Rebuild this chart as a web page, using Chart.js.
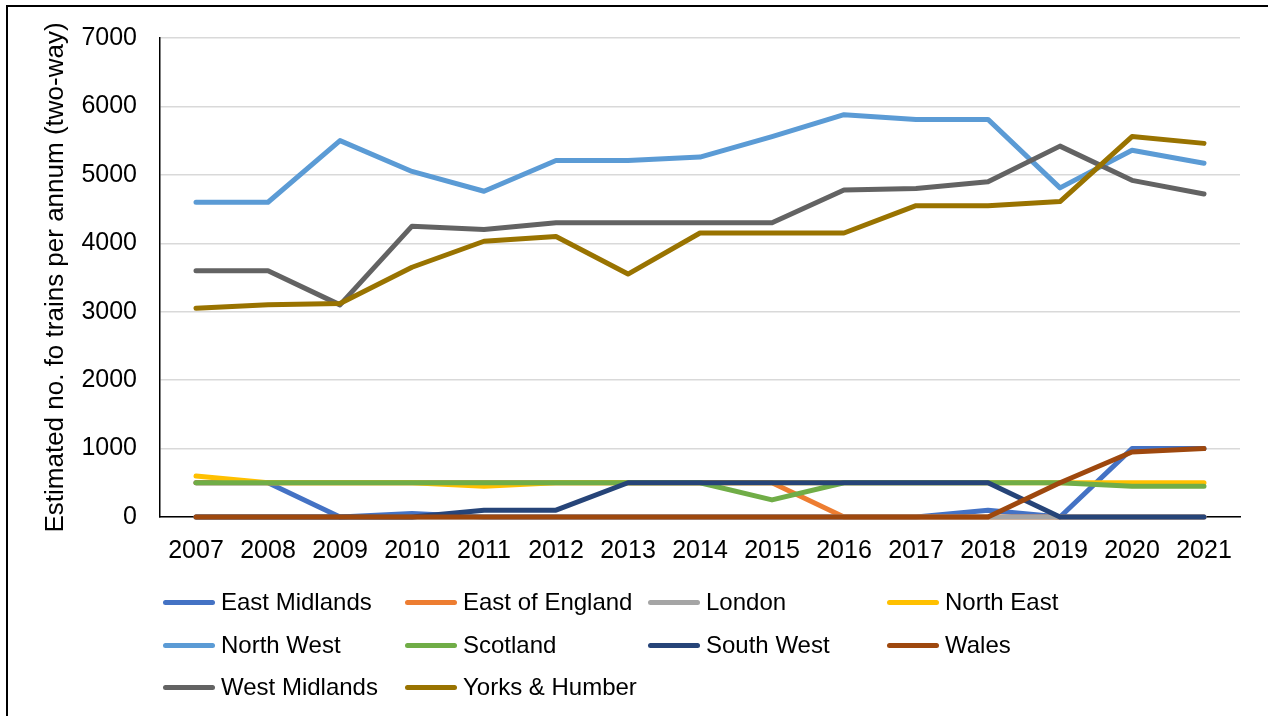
<!DOCTYPE html>
<html>
<head>
<meta charset="utf-8">
<script src="https://cdn.jsdelivr.net/npm/chart.js@4.4.0/dist/chart.umd.min.js"></script>
<style>
  body { margin: 0; background: #fff; font-family: "Liberation Sans", Arial, sans-serif; }
  #wrap { position: relative; width: 1268px; height: 716px; overflow: hidden; }
  #frame { position: absolute; left: 6px; top: 5px; width: 1300px; height: 800px; border-left: 2px solid #000; border-top: 2px solid #000; }
  #legend { position: absolute; left: 0; top: 0; }
  .item { position: absolute; height: 30px; display: flex; align-items: center; font-size: 24px; color: #000; white-space: nowrap; }
  .swatch { width: 52px; height: 5px; border-radius: 3px; margin-right: 6px; }
</style>
</head>
<body>
<div id="wrap">
  <canvas id="trainsChart" width="1268" height="716"></canvas>
  <div id="frame"></div>
  <div id="legend"></div>
</div>
<script>
const years = ['2007', '2008', '2009', '2010', '2011', '2012', '2013', '2014', '2015', '2016', '2017', '2018', '2019', '2020', '2021'];

const eastMidlands   = [500, 500, 0, 50, 0, 0, 0, 0, 0, 0, 0, 100, 0, 1000, 1000];
const eastOfEngland  = [500, 500, 500, 500, 500, 500, 500, 500, 500, 0, 0, 0, 0, 0, 0];
const london         = [0, 0, 0, 0, 0, 0, 0, 0, 0, 0, 0, 0, 0, 0, 0];
const northEast      = [600, 500, 500, 500, 450, 500, 500, 500, 500, 500, 500, 500, 500, 500, 500];
const northWest      = [4600, 4600, 5500, 5050, 4760, 5210, 5210, 5260, 5560, 5880, 5810, 5810, 4810, 5360, 5170];
const scotland       = [500, 500, 500, 500, 500, 500, 500, 500, 250, 500, 500, 500, 500, 450, 450];
const southWest      = [0, 0, 0, 0, 100, 100, 500, 500, 500, 500, 500, 500, 0, 0, 0];
const wales          = [0, 0, 0, 0, 0, 0, 0, 0, 0, 0, 0, 0, 500, 950, 1000];
const westMidlands   = [3600, 3600, 3100, 4250, 4200, 4300, 4300, 4300, 4300, 4780, 4800, 4900, 5420, 4920, 4720];
const yorksHumber    = [3050, 3100, 3120, 3650, 4030, 4100, 3550, 4150, 4150, 4150, 4550, 4550, 4610, 5560, 5460];

const yTicks = [0, 1000, 2000, 3000, 4000, 5000, 6000, 7000];

const seriesNames = ['East Midlands', 'East of England', 'London', 'North East', 'North West',
                     'Scotland', 'South West', 'Wales', 'West Midlands', 'Yorks & Humber'];
const seriesData = [eastMidlands, eastOfEngland, london, northEast, northWest,
                    scotland, southWest, wales, westMidlands, yorksHumber];
const seriesColors = ['#4472C4', '#ED7D31', '#A5A5A5', '#FFC000', '#5B9BD5',
                      '#70AD47', '#264478', '#9E480E', '#636363', '#997300'];

const font = 'Liberation Sans, Arial, sans-serif';

// later series are drawn on top, like the original
const datasets = seriesNames.map((name, i) => ({
    label: name,
    data: seriesData[i],
    order: seriesNames.length - i,
    borderColor: seriesColors[i],
    backgroundColor: seriesColors[i],
    borderWidth: 5,
    borderCapStyle: 'round',
    borderJoinStyle: 'round',
    pointRadius: 0,
    pointHoverRadius: 0,
    tension: 0,
    fill: false,
    clip: false
}));

const ctx = document.getElementById('trainsChart').getContext('2d');
new Chart(ctx, {
    type: 'line',
    data: { labels: years, datasets: datasets },
    options: {
        responsive: false,
        animation: false,
        layout: { padding: { left: 0, top: 37, right: 28, bottom: 149 } },
        plugins: {
            legend: { display: false },
            tooltip: { enabled: false }
        },
        scales: {
            x: {
                offset: true,
                grid: { display: false, drawTicks: false },
                border: { display: true, color: '#000', width: 1.5 },
                ticks: { color: '#000', font: { family: font, size: 25 }, padding: 19, maxRotation: 0, autoSkip: false },
                afterFit: (scale) => { scale.height = 50; }
            },
            y: {
                min: 0,
                max: 7000,
                afterBuildTicks: (scale) => { scale.ticks = yTicks.map(v => ({ value: v })); },
                grid: { color: '#d9d9d9', lineWidth: 1.5, drawTicks: false },
                border: { display: true, color: '#000', width: 1.5 },
                ticks: {
                    color: '#000',
                    font: { family: font, size: 25 },
                    padding: 23,
                    callback: (v) => String(v)
                },
                title: {
                    display: true,
                    text: 'Estimated no. fo trains per annum (two-way)',
                    color: '#000',
                    font: { family: font, size: 26 },
                    padding: { top: 40, bottom: 0 }
                },
                afterFit: (scale) => { scale.width = 160; }
            }
        }
    }
});

// legend laid out as in the original: 4 columns, rows of 42px
const legendEl = document.getElementById('legend');
const colX = [163, 405, 648, 887];
const rowY = [587, 630, 672];
seriesNames.forEach((name, i) => {
    const item = document.createElement('div');
    item.className = 'item';
    item.style.left = colX[i % 4] + 'px';
    item.style.top = rowY[Math.floor(i / 4)] + 'px';
    const sw = document.createElement('span');
    sw.className = 'swatch';
    sw.style.background = seriesColors[i];
    const txt = document.createElement('span');
    txt.textContent = name;
    item.appendChild(sw);
    item.appendChild(txt);
    legendEl.appendChild(item);
});
</script>
</body>
</html>
